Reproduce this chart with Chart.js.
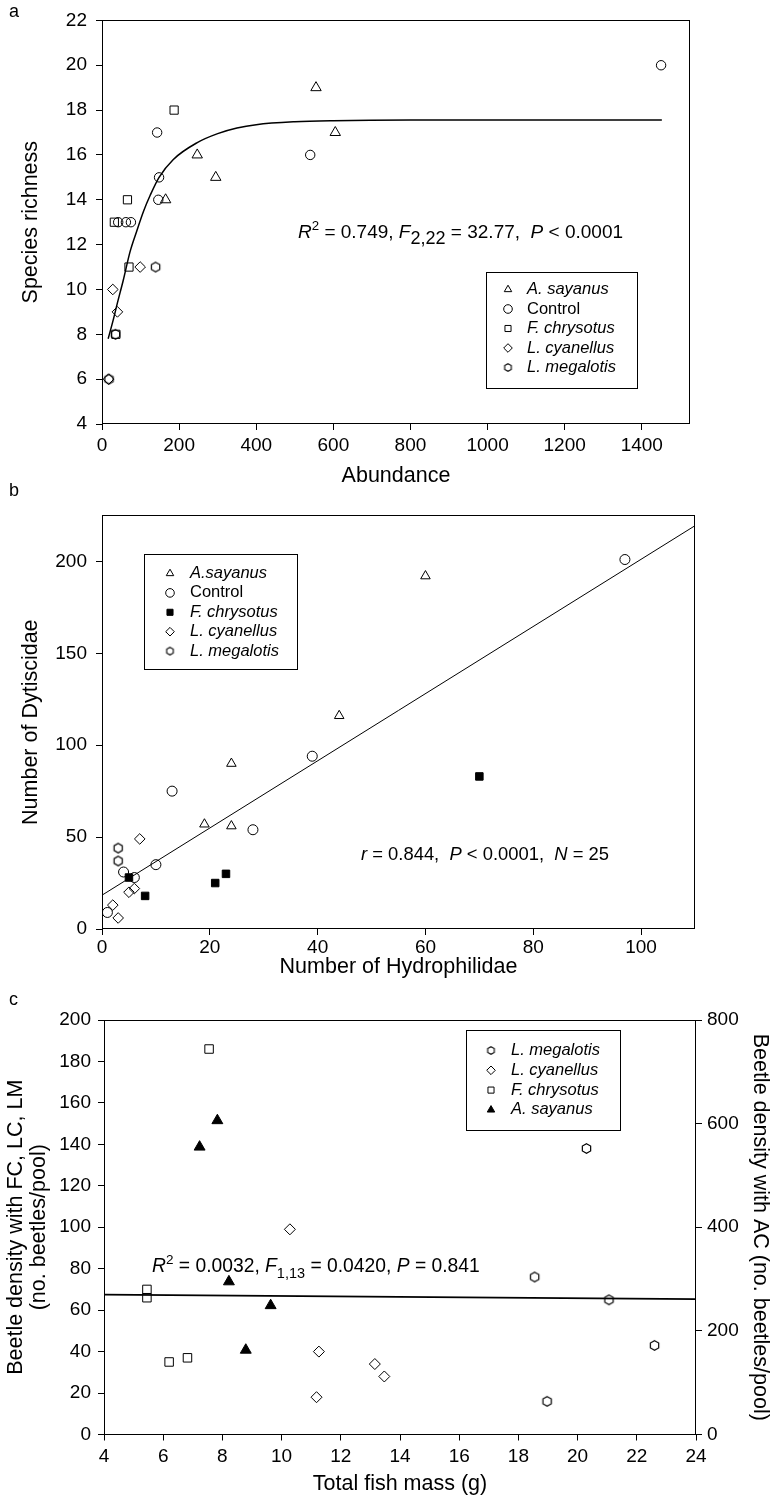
<!DOCTYPE html>
<html>
<head>
<meta charset="utf-8">
<script src="https://cdn.jsdelivr.net/npm/chart.js@4.4.1/dist/chart.umd.min.js"></script>
<style>
  body { margin: 0; background: #fff; }
  #page { position: relative; width: 775px; height: 1500px; }
  .panel { position: absolute; left: 0; width: 775px; }
  .tag { position: absolute; left: 9px; font: 18px "Liberation Sans", Arial, sans-serif; line-height: 20px; color: #000; }
</style>
</head>
<body>
<div id="page">
  <div class="panel" style="top:0;height:495px"><canvas id="chartA" width="775" height="495"></canvas></div>
  <div class="panel" style="top:495px;height:505px"><canvas id="chartB" width="775" height="505"></canvas></div>
  <div class="panel" style="top:1000px;height:500px"><canvas id="chartC" width="775" height="500"></canvas></div>
  <div class="tag" style="top:1px">a</div>
  <div class="tag" style="top:480px">b</div>
  <div class="tag" style="top:989px">c</div>
</div>
<script>
const FONT = '"Liberation Sans", Arial, sans-serif';
const TICK_SIZE = 19;
const TITLE_SIZE = 21.5;

// ---- panel a : species richness vs abundance
const sayAX = [555, 605, 247, 295, 165];
const sayAY = [19, 17, 16, 15, 14];
const ctrlAX = [1450, 143, 540, 148, 146, 42, 62, 75];
const ctrlAY = [20, 17, 16, 15, 14, 13, 13, 13];
const chrAX = [187, 66, 32, 70, 36];
const chrAY = [18, 14, 13, 11, 8];
const cyaAX = [99, 28, 40, 17];
const cyaAY = [11, 10, 9, 6];
const megAX = [139, 35, 18];
const megAY = [11, 8, 6];
// fitted curve
const fitAX = [16, 30, 40, 55, 73, 90, 108, 125, 148, 185, 247, 300, 350, 400, 500, 600, 800, 1000, 1452];
const fitAY = [7.8, 8.7, 9.4, 10.4, 11.7, 12.6, 13.5, 14.2, 15.0, 15.8, 16.55, 16.95, 17.2, 17.35, 17.48, 17.53, 17.56, 17.56, 17.56];

// ---- panel b : Dytiscidae vs Hydrophilidae
const sayBX = [60, 44, 24, 19, 24];
const sayBY = [192, 116, 90, 57, 56];
const ctrlBX = [97, 39, 13, 28, 10, 4, 6, 1];
const ctrlBY = [201, 94, 75, 54, 35, 31, 28, 9];
const chrBX = [70, 5, 8, 21, 23];
const chrBY = [83, 28, 18, 25, 30];
const cyaBX = [7, 6, 5, 2, 3];
const cyaBY = [49, 22, 20, 13, 6];
const megBX = [3, 3];
const megBY = [44, 37];
const fitBX = [0, 110];
const fitBY = [18.4, 219.4];

// ---- panel c : beetle density vs total fish mass
const megCX = [20.3, 18.55, 21.06, 22.6, 18.97];
const megCY = [138, 76, 65, 43, 16];
const cyaCX = [10.28, 11.26, 13.15, 13.47, 11.18];
const cyaCY = [99, 40, 34, 28, 18];
const chrCX = [7.55, 5.45, 5.45, 6.2, 6.82];
const chrCY = [186, 70, 66, 35, 37];
const sayCX = [7.83, 7.23, 8.22, 9.63, 8.79];   // right axis (AC)
const sayCY = [606, 555, 295, 249, 163];
const fitCX = [4, 24];
const fitCY = [67.5, 65.3];

const pts = (xs, ys) => xs.map((x, i) => ({ x: x, y: ys[i] }));

// hexagon marker (pointy top)
function hexMarker(r, lw) {
  const s = 2 * Math.ceil(r + lw) + 1;
  const c = document.createElement('canvas');
  c.width = s; c.height = s;
  const g = c.getContext('2d');
  g.strokeStyle = '#000';
  g.lineWidth = lw;
  g.beginPath();
  for (let k = 0; k < 6; k++) {
    const ang = -Math.PI / 2 + k * Math.PI / 3;
    const px = s / 2 + r * Math.cos(ang), py = s / 2 + r * Math.sin(ang);
    if (k === 0) g.moveTo(px, py); else g.lineTo(px, py);
  }
  g.closePath();
  g.stroke();
  return c;
}

function marker(label, xs, ys, style, r, filled, extra) {
  return Object.assign({
    label: label,
    data: pts(xs, ys),
    pointStyle: style,
    pointRadius: r,
    pointHoverRadius: r,
    pointBorderWidth: 1,
    borderColor: '#000',
    backgroundColor: filled ? '#000' : 'rgba(0,0,0,0)',
    showLine: false
  }, extra || {});
}

function fitLine(xs, ys, w, extra) {
  return Object.assign({
    type: 'line',
    data: pts(xs, ys),
    borderColor: '#000',
    borderWidth: w,
    pointRadius: 0,
    fill: false,
    cubicInterpolationMode: 'monotone'
  }, extra || {});
}

// frame around the plotting area
const framePlugin = {
  id: 'frame',
  afterDraw(chart) {
    const { ctx, chartArea: a } = chart;
    ctx.save();
    ctx.strokeStyle = '#000';
    ctx.lineWidth = 1;
    ctx.strokeRect(Math.round(a.left) + 0.5, Math.round(a.top) + 0.5,
      Math.round(a.width) - 1, Math.round(a.height) - 1);
    ctx.restore();
  }
};

// legend drawn in a box inside the plot
const boxLegend = {
  id: 'boxLegend',
  afterDraw(chart, args, o) {
    if (!o.box) return;
    const ctx = chart.ctx;
    ctx.save();
    ctx.strokeStyle = '#000';
    ctx.lineWidth = 1;
    ctx.strokeRect(o.box[0] + 0.5, o.box[1] + 0.5, o.box[2], o.box[3]);
    ctx.textBaseline = 'middle';
    ctx.textAlign = 'left';
    let row = 0;
    chart.data.datasets.forEach(ds => {
      if (!ds.label) return;
      const y = o.firstRow + row * o.rowStep;
      ctx.fillStyle = ds.backgroundColor;
      ctx.strokeStyle = '#000';
      ctx.lineWidth = 1;
      Chart.helpers.drawPoint(ctx, {
        pointStyle: ds.legendStyle || ds.pointStyle,
        radius: o.markerRadius, borderWidth: 1, rotation: 0
      }, o.markerX, y);
      ctx.fillStyle = '#000';
      ctx.font = (ds.label === 'Control' ? '' : 'italic ') + o.fontSize + 'px ' + FONT;
      ctx.fillText(ds.label, o.textX, y);
      row++;
    });
    ctx.restore();
  }
};

// statistics line with italics, super- and subscripts
const noteText = {
  id: 'noteText',
  afterDraw(chart, args, o) {
    if (!o.parts) return;
    const ctx = chart.ctx;
    ctx.save();
    ctx.fillStyle = '#000';
    ctx.textBaseline = 'alphabetic';
    ctx.textAlign = 'left';
    let x = o.x;
    o.parts.forEach(p => {
      let size = o.size, dy = 0;
      if (p.sup) { size = o.size * o.supScale; dy = -o.size * 0.42; }
      if (p.sub) { size = o.size * o.subScale; dy = o.size * 0.3; }
      ctx.font = (p.i ? 'italic ' : '') + size + 'px ' + FONT;
      ctx.fillText(p.t, x, o.y + dy);
      x += ctx.measureText(p.t).width;
    });
    ctx.restore();
  }
};

const plain = v => String(v);

function axisX(min, max, step, title, boxH, tickPad, titlePad) {
  return {
    type: 'linear', position: 'bottom', min: min, max: max,
    ticks: { stepSize: step, includeBounds: false, autoSkip: false, maxRotation: 0,
      color: '#000', font: { family: FONT, size: TICK_SIZE }, padding: tickPad, callback: plain },
    grid: { drawOnChartArea: false, drawTicks: true, tickLength: 6, tickColor: '#000' },
    border: { display: false },
    title: { display: true, text: title, color: '#000', font: { family: FONT, size: TITLE_SIZE },
      padding: { top: 0, bottom: titlePad } },
    afterFit(s) { s.height = boxH; }
  };
}

function axisY(pos, min, max, step, title, boxW, tickPad, titlePad, lh) {
  return {
    type: 'linear', position: pos, min: min, max: max,
    ticks: { stepSize: step, includeBounds: false, autoSkip: false,
      color: '#000', font: { family: FONT, size: TICK_SIZE }, padding: tickPad, callback: plain },
    grid: { drawOnChartArea: false, drawTicks: true, tickLength: 6, tickColor: '#000' },
    border: { display: false },
    title: { display: true, text: title, color: '#000',
      font: { family: FONT, size: TITLE_SIZE, lineHeight: lh || 1.2 },
      padding: { top: titlePad, bottom: 0 } },
    afterFit(s) { s.width = boxW; }
  };
}

function makeChart(id, datasets, scales, padding, legendOpts, noteOpts) {
  return new Chart(document.getElementById(id), {
    type: 'scatter',
    data: { datasets: datasets },
    options: {
      responsive: false,
      animation: false,
      layout: { padding: padding },
      plugins: {
        legend: { display: false },
        tooltip: { enabled: false },
        boxLegend: legendOpts,
        noteText: noteOpts
      },
      scales: scales
    },
    plugins: [framePlugin, boxLegend, noteText]
  });
}

// ---------- panel a
makeChart('chartA', [
  marker('A. sayanus', sayAX, sayAY, 'triangle', 6, false),
  marker('Control', ctrlAX, ctrlAY, 'circle', 4.7, false),
  marker('F. chrysotus', chrAX, chrAY, 'rect', 5.8, false),
  marker('L. cyanellus', cyaAX, cyaAY, 'rectRot', 5.3, false),
  marker('L. megalotis', megAX, megAY, hexMarker(4.8, 1.2), 5, false, { legendStyle: hexMarker(3.8, 1.1) }),
  fitLine(fitAX, fitAY, 1.5)
], {
  x: axisX(0, 1525, 200, 'Abundance', 71, 4, 6),
  y: axisY('left', 4, 22, 2, 'Species richness', 102, 9, 18)
}, { top: 12, right: 85, left: 0, bottom: 0 },
{ box: [486, 272, 151, 116], firstRow: 289.5, rowStep: 19.5, markerX: 508, textX: 527, markerRadius: 4.3, fontSize: 16.5 },
{ x: 298, y: 238, size: 19, supScale: 0.7, subScale: 0.95,
  parts: [{ t: 'R', i: 1 }, { t: '2', sup: 1 }, { t: ' = 0.749, ' }, { t: 'F', i: 1 }, { t: '2,22', sub: 1 },
          { t: ' = 32.77,  ' }, { t: 'P', i: 1 }, { t: ' < 0.0001' }] });

// ---------- panel b
makeChart('chartB', [
  marker('A.sayanus', sayBX, sayBY, 'triangle', 5.5, false),
  marker('Control', ctrlBX, ctrlBY, 'circle', 5, false),
  marker('F. chrysotus', chrBX, chrBY, 'rect', 5.3, true),
  marker('L. cyanellus', cyaBX, cyaBY, 'rectRot', 5.3, false),
  marker('L. megalotis', megBX, megBY, hexMarker(4.7, 1.2), 5, false, { legendStyle: hexMarker(3.8, 1.1) }),
  fitLine(fitBX, fitBY, 1)
], {
  x: axisX(0, 110, 20, 'Number of Hydrophilidae', 71, 1.5, 20),
  y: axisY('left', 0, 225, 50, 'Number of Dytiscidae', 102, 9, 18)
}, { top: 19, right: 80, left: 0, bottom: 0 },
{ box: [144, 59, 153, 115], firstRow: 78.5, rowStep: 19.4, markerX: 170, textX: 190, markerRadius: 4.3, fontSize: 16.5 },
{ x: 361, y: 365, size: 18.4, supScale: 0.7, subScale: 0.8,
  parts: [{ t: 'r', i: 1 }, { t: ' = 0.844,  ' }, { t: 'P', i: 1 }, { t: ' < 0.0001,  ' }, { t: 'N', i: 1 }, { t: ' = 25' }] });

// ---------- panel c
makeChart('chartC', [
  marker('L. megalotis', megCX, megCY, hexMarker(4.8, 1.2), 5, false, { legendStyle: hexMarker(3.8, 1.1) }),
  marker('L. cyanellus', cyaCX, cyaCY, 'rectRot', 5.5, false),
  marker('F. chrysotus', chrCX, chrCY, 'rect', 6, false),
  marker('A. sayanus', sayCX, sayCY, 'triangle', 6.3, true, { yAxisID: 'y2' }),
  fitLine(fitCX, fitCY, 1.6)
], {
  x: axisX(4, 24, 2, 'Total fish mass (g)', 65.5, 4.8, 3),
  y: axisY('left', 0, 200, 20, ['Beetle density with FC, LC, LM', '(no. beetles/pool)'], 104, 7, 4, 1.1),
  y2: axisY('right', 0, 800, 200, 'Beetle density with AC (no. beetles/pool)', 79, 5, 2)
}, { top: 20, right: 0, left: 0, bottom: 0 },
{ box: [466, 30, 154, 100], firstRow: 50.5, rowStep: 19.8, markerX: 491, textX: 511, markerRadius: 4.3, fontSize: 16.5 },
{ x: 152, y: 272, size: 19.3, supScale: 0.7, subScale: 0.75,
  parts: [{ t: 'R', i: 1 }, { t: '2', sup: 1 }, { t: ' = 0.0032, ' }, { t: 'F', i: 1 }, { t: '1,13', sub: 1 },
          { t: ' = 0.0420, ' }, { t: 'P', i: 1 }, { t: ' = 0.841' }] });
</script>
</body>
</html>
